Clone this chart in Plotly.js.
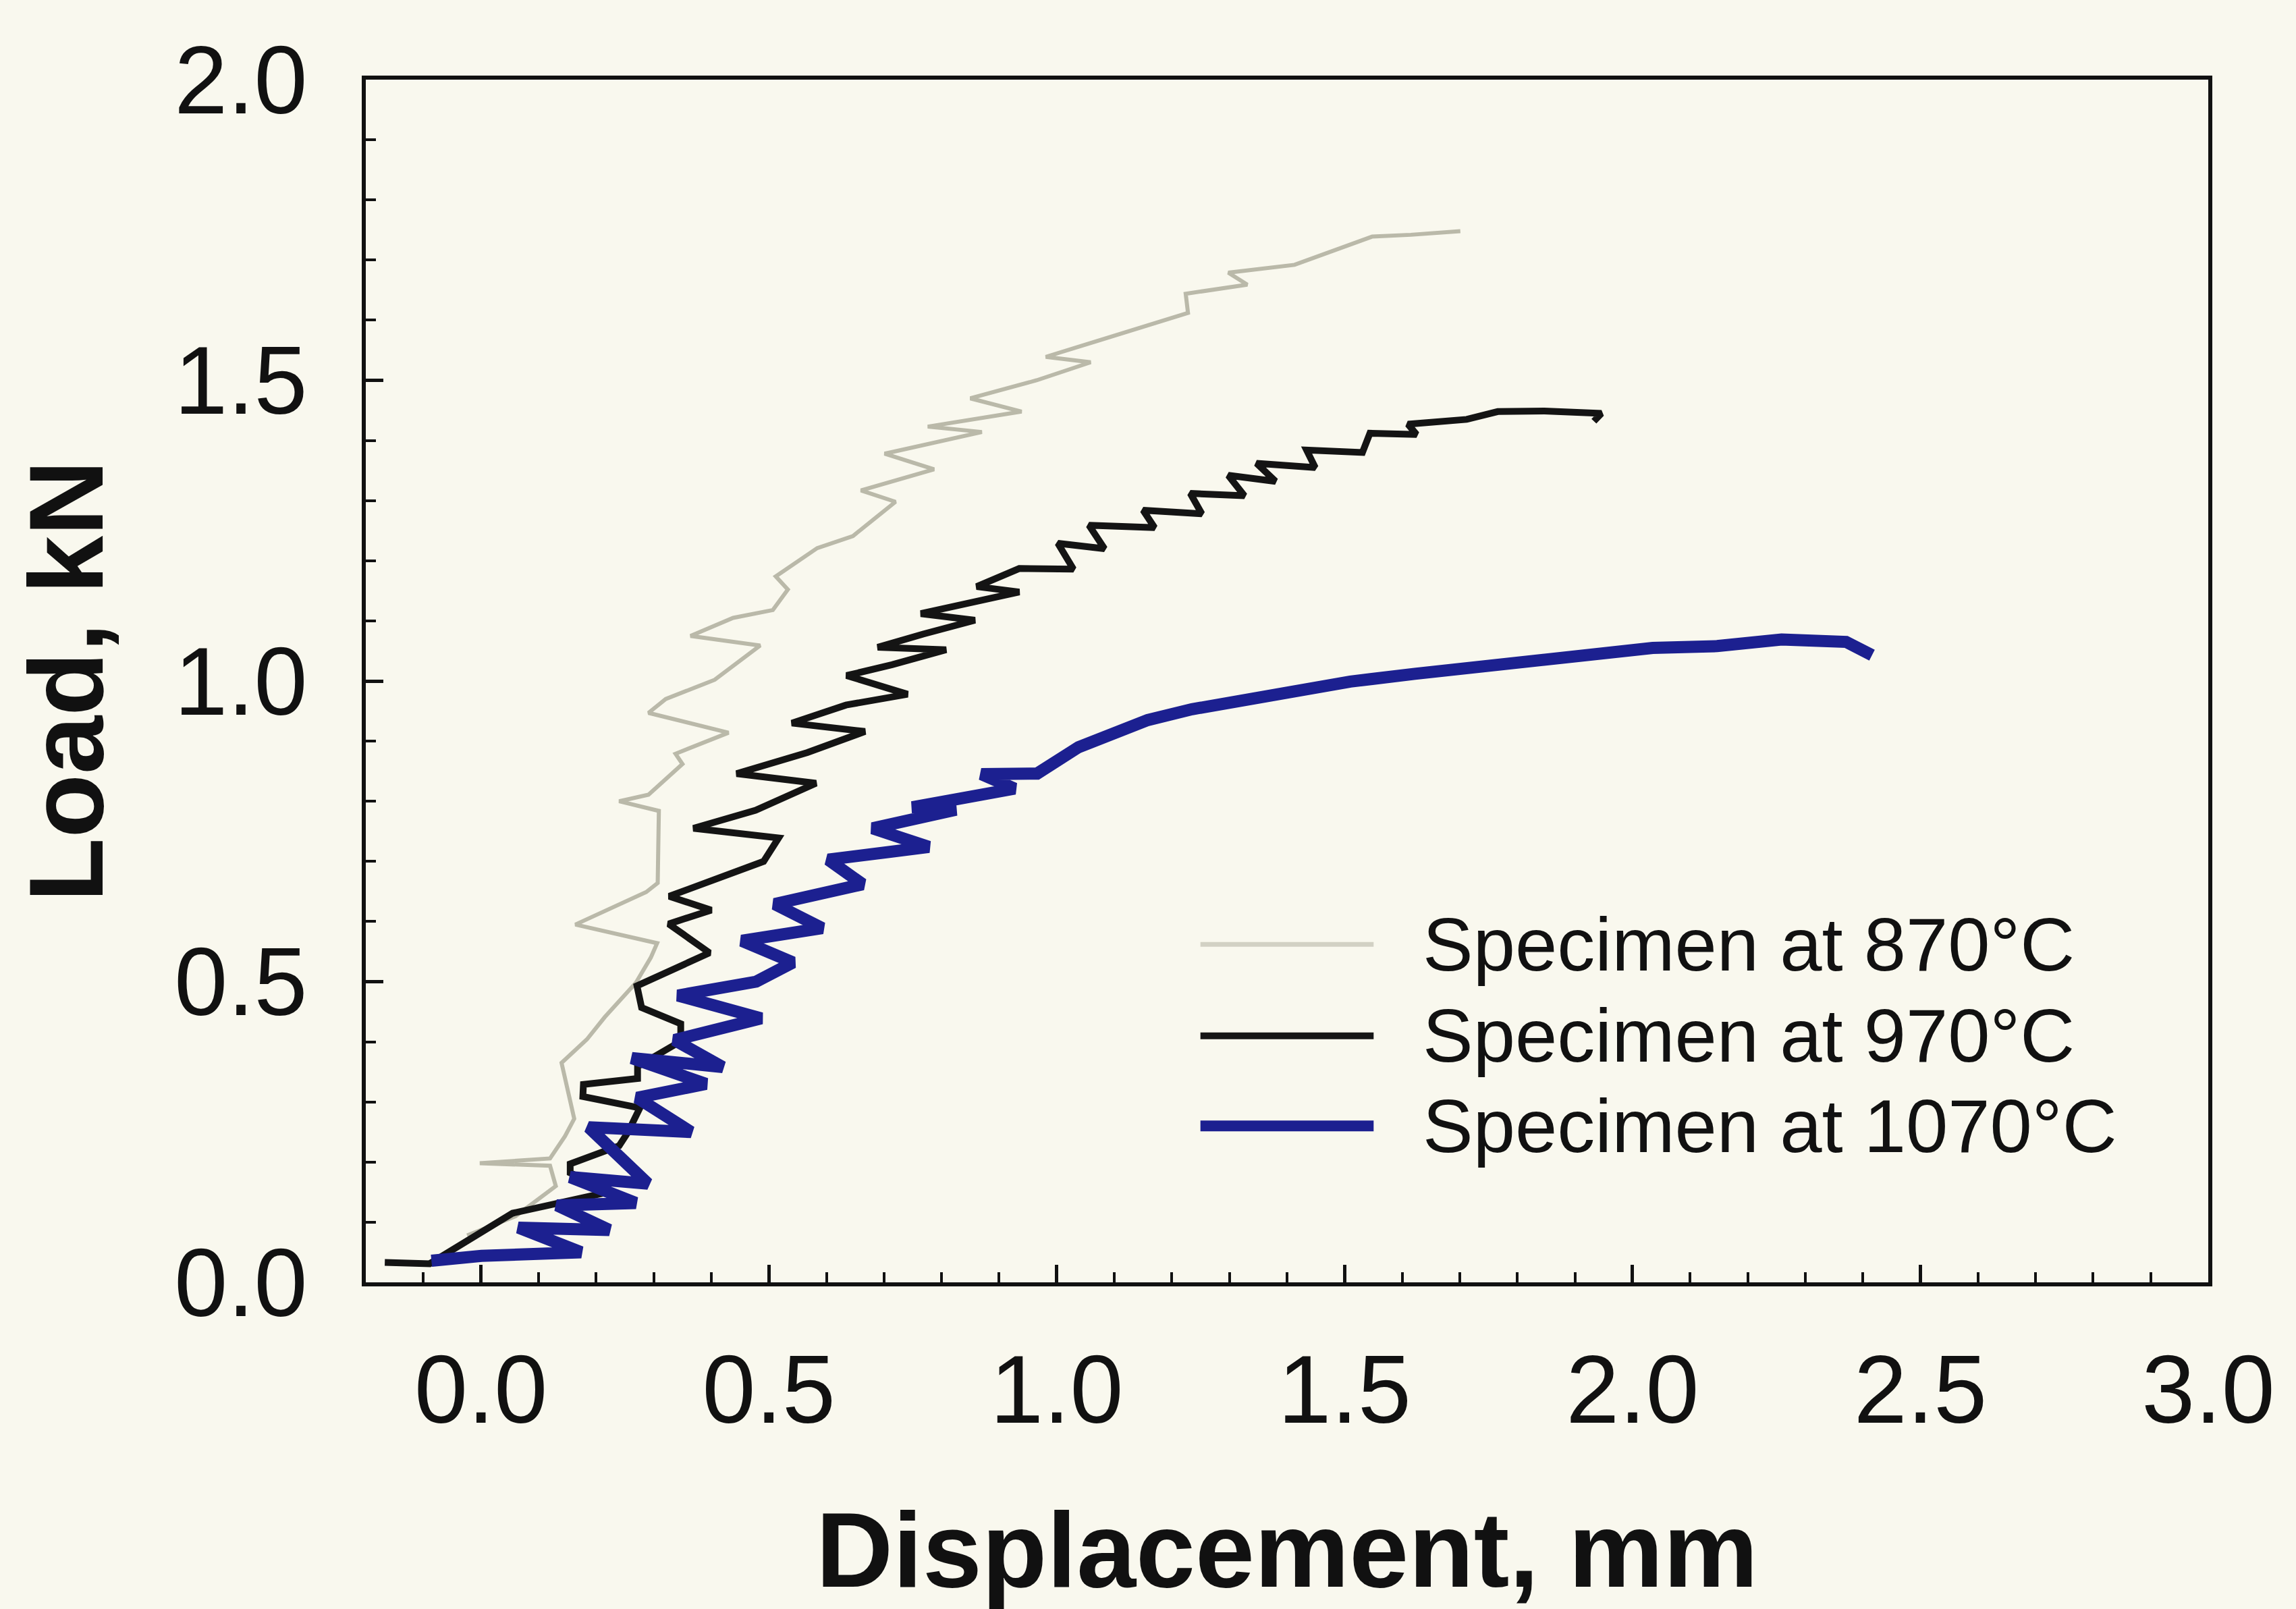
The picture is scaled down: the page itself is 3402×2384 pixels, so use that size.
<!DOCTYPE html>
<html>
<head>
<meta charset="utf-8">
<script src="https://cdn.plot.ly/plotly-3.0.1.min.js"></script>
<style>
  html, body { margin: 0; padding: 0; background: #f9f8ee; }
  #chart { width: 3402px; height: 2384px; }
</style>
</head>
<body>
<div id="chart"></div>
<script>
// Load–displacement records of compression specimens tested at three temperatures
const seriesNames = ['Specimen at 870°C', 'Specimen at 970°C', 'Specimen at 1070°C'];

const displacement870 = [-0.024, 0.060, 0.130, 0.120, -0.002, 0.120, 0.146, 0.162, 0.140, 0.184, 0.215, 0.269, 0.295, 0.306, 0.164, 0.287, 0.307, 0.309, 0.240, 0.291, 0.350, 0.338, 0.430, 0.291, 0.321, 0.406, 0.485, 0.364, 0.438, 0.507, 0.533, 0.512, 0.584, 0.646, 0.720, 0.660, 0.787, 0.701, 0.870, 0.776, 0.939, 0.850, 0.965, 1.059, 0.981, 1.129, 1.228, 1.224, 1.331, 1.298, 1.413, 1.548, 1.615, 1.701];
const load870 = [0.078, 0.110, 0.160, 0.194, 0.198, 0.206, 0.243, 0.272, 0.365, 0.404, 0.441, 0.498, 0.540, 0.564, 0.595, 0.649, 0.664, 0.784, 0.800, 0.811, 0.862, 0.879, 0.914, 0.947, 0.970, 1.002, 1.059, 1.075, 1.105, 1.118, 1.152, 1.174, 1.221, 1.241, 1.298, 1.317, 1.352, 1.378, 1.414, 1.423, 1.448, 1.470, 1.500, 1.530, 1.539, 1.582, 1.612, 1.644, 1.659, 1.679, 1.692, 1.739, 1.742, 1.748];

const displacement970 = [-0.167, -0.089, 0.055, 0.226, 0.155, 0.155, 0.240, 0.255, 0.276, 0.177, 0.178, 0.272, 0.272, 0.347, 0.347, 0.279, 0.271, 0.397, 0.326, 0.400, 0.327, 0.422, 0.491, 0.517, 0.369, 0.477, 0.582, 0.444, 0.567, 0.667, 0.540, 0.634, 0.741, 0.635, 0.714, 0.808, 0.689, 0.768, 0.858, 0.764, 0.848, 0.935, 0.861, 0.935, 1.029, 1.002, 1.083, 1.056, 1.170, 1.150, 1.252, 1.232, 1.326, 1.298, 1.380, 1.347, 1.449, 1.434, 1.531, 1.544, 1.625, 1.610, 1.712, 1.766, 1.847, 1.946, 1.933];
const load970 = [0.033, 0.031, 0.115, 0.151, 0.182, 0.197, 0.227, 0.249, 0.290, 0.309, 0.329, 0.339, 0.359, 0.401, 0.430, 0.457, 0.493, 0.548, 0.596, 0.619, 0.642, 0.677, 0.700, 0.739, 0.755, 0.785, 0.830, 0.846, 0.881, 0.916, 0.930, 0.960, 0.978, 1.009, 1.027, 1.052, 1.056, 1.078, 1.101, 1.112, 1.130, 1.148, 1.157, 1.187, 1.186, 1.229, 1.220, 1.259, 1.255, 1.284, 1.278, 1.312, 1.308, 1.342, 1.332, 1.362, 1.355, 1.384, 1.380, 1.412, 1.410, 1.427, 1.435, 1.448, 1.449, 1.445, 1.432];

const displacement1070 = [-0.086, 0.001, 0.174, 0.065, 0.223, 0.132, 0.269, 0.155, 0.290, 0.187, 0.365, 0.271, 0.391, 0.262, 0.420, 0.336, 0.487, 0.342, 0.478, 0.542, 0.453, 0.593, 0.510, 0.663, 0.603, 0.778, 0.680, 0.825, 0.749, 0.927, 0.869, 0.966, 1.038, 1.107, 1.158, 1.235, 1.293, 1.398, 1.510, 1.622, 1.734, 1.808, 1.920, 2.035, 2.147, 2.259, 2.371, 2.416];
const load1070 = [0.036, 0.044, 0.050, 0.091, 0.087, 0.128, 0.132, 0.175, 0.164, 0.258, 0.250, 0.307, 0.330, 0.373, 0.358, 0.403, 0.439, 0.477, 0.500, 0.532, 0.568, 0.589, 0.629, 0.662, 0.703, 0.724, 0.755, 0.786, 0.790, 0.821, 0.845, 0.846, 0.890, 0.915, 0.935, 0.953, 0.963, 0.983, 0.999, 1.012, 1.023, 1.031, 1.044, 1.055, 1.058, 1.069, 1.065, 1.043];

const FONT = 'Liberation Sans, Arial, Helvetica, sans-serif';
const INK = '#111111';
const PAPER = '#f9f8ee';

const styles = [
  { color: '#bab9a9', width: 6, legendColor: '#d2d1c4', legendWidth: 7 },
  { color: '#141414', width: 10, legendColor: '#161616', legendWidth: 10 },
  { color: '#1c2090', width: 18, legendColor: '#1c2090', legendWidth: 16 }
];

const xs = [displacement870, displacement970, displacement1070];
const ys = [load870, load970, load1070];

const traces = xs.map((x, i) => ({
  type: 'scatter',
  mode: 'lines',
  name: seriesNames[i],
  x: x,
  y: ys[i],
  line: { color: styles[i].color, width: styles[i].width, shape: 'linear' },
  showlegend: false,
  hoverinfo: 'skip'
}));

// Hand-built legend: long sample lines with labels to their right
const legendRowsY = [0.281, 0.205, 0.130];
const legendShapes = legendRowsY.map((y, i) => ({
  type: 'line', xref: 'paper', yref: 'paper',
  x0: 0.453, x1: 0.547, y0: y, y1: y,
  line: { color: styles[i].legendColor, width: styles[i].legendWidth }
}));
const legendLabels = legendRowsY.map((y, i) => ({
  xref: 'paper', yref: 'paper', x: 0.573, y: y,
  xanchor: 'left', yanchor: 'middle', showarrow: false,
  text: seriesNames[i],
  font: { family: FONT, size: 112, color: INK }
}));

const axisCommon = {
  showline: true, linewidth: 6, linecolor: INK, mirror: true,
  showgrid: false, zeroline: false,
  ticks: 'inside', ticklen: 26, tickwidth: 5, tickcolor: INK,
  tickformat: '.1f',
  tickfont: { family: FONT, size: 142, color: INK },
  automargin: false
};

const layout = {
  width: 3402, height: 2384,
  margin: { l: 542, r: 130, t: 118, b: 484, pad: 0 },
  paper_bgcolor: PAPER, plot_bgcolor: PAPER,
  font: { family: FONT, color: INK },
  xaxis: Object.assign({}, axisCommon, {
    range: [-0.2, 3.0], tick0: 0, dtick: 0.5,
    ticklabelstandoff: 32,
    minor: { ticks: 'inside', tick0: 0, dtick: 0.1, ticklen: 15, tickwidth: 4, tickcolor: INK, showgrid: false },
    title: { text: 'Displacement, mm', standoff: 110, font: { family: FONT, size: 158, weight: 'bold', color: INK } }
  }),
  yaxis: Object.assign({}, axisCommon, {
    range: [0, 2.0], tick0: 0, dtick: 0.5,
    ticklabelstandoff: 52,
    minor: { ticks: 'inside', tick0: 0, dtick: 0.1, ticklen: 15, tickwidth: 4, tickcolor: INK, showgrid: false },
    title: { text: 'Load, kN', standoff: 55, font: { family: FONT, size: 155, weight: 'bold', color: INK } }
  }),
  shapes: legendShapes,
  annotations: legendLabels,
  showlegend: false
};

Plotly.newPlot('chart', traces, layout, { staticPlot: true, displayModeBar: false });
</script>
</body>
</html>
